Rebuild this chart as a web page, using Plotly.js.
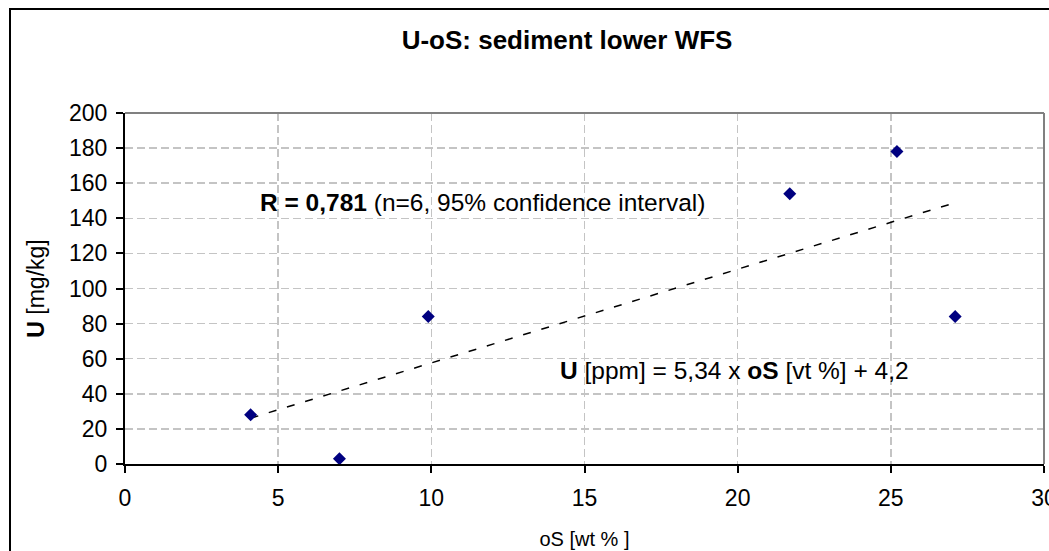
<!DOCTYPE html>
<html>
<head>
<meta charset="utf-8">
<script src="https://cdn.plot.ly/plotly-3.0.1.min.js"></script>
<style>
  html, body { margin: 0; padding: 0; background: #ffffff; overflow: hidden; }
  #wrap { position: relative; width: 1049px; height: 551px; }
  #chart { position: absolute; left: 0; top: 0; width: 1049px; height: 551px; }
  #frame { position: absolute; left: 9px; top: 8px; width: 1100px; height: 600px;
           border-left: 2px solid #000; border-top: 2px solid #000; pointer-events: none; }
</style>
</head>
<body>
<div id="wrap">
  <div id="chart"></div>
  <div id="frame"></div>
</div>
<script>
// Data
const osValues = [4.1, 7.0, 9.9, 21.7, 25.2, 27.1];      // oS [wt %]
const uValues  = [28, 3, 84, 154, 178, 84];               // U [mg/kg]
const trendX   = [4.1, 27.1];                             // regression line ends
const trendY   = [26.1, 148.9];
const xTicks   = [0, 5, 10, 15, 20, 25, 30];
const yTicks   = [0, 20, 40, 60, 80, 100, 120, 140, 160, 180, 200];

const titleText = '<b>U-oS: sediment lower WFS</b>';
const rText = '<b>R = 0,781</b> (n=6, 95% confidence interval)';
const eqText = '<b>U</b> [ppm] = 5,34 x <b>oS</b> [vt %] + 4,2';

const FONT = 'Liberation Sans, Arial, sans-serif';

const traces = [
  {
    x: trendX, y: trendY, type: 'scatter', mode: 'lines',
    line: { color: '#000000', width: 1.5, dash: '8px,11px' },
    hoverinfo: 'skip', showlegend: false
  },
  {
    x: osValues, y: uValues, type: 'scatter', mode: 'markers',
    marker: { symbol: 'diamond', size: 10, color: '#000080' },
    showlegend: false
  }
];

const layout = {
  width: 1049, height: 551,
  margin: { l: 125, r: 5, t: 113, b: 87 },
  paper_bgcolor: '#ffffff', plot_bgcolor: '#ffffff',
  font: { family: FONT, color: '#000000', size: 23 },
  title: {
    text: titleText,
    font: { family: FONT, size: 26, color: '#000000' },
    xref: 'paper', x: 0.481, xanchor: 'center',
    yref: 'container', y: 0.927, yanchor: 'middle'
  },
  xaxis: {
    range: [0, 30], tickvals: xTicks, ticktext: xTicks.map(String),
    showgrid: true, gridcolor: '#c4c4c4', gridwidth: 1.5, griddash: '8px,4px',
    zeroline: false, showline: true, linecolor: '#000000', linewidth: 2,
    ticks: 'outside', ticklen: 7, tickwidth: 2, tickcolor: '#000000',
    ticklabelstandoff: 5, ticklabeloverflow: 'allow',
    tickfont: { family: FONT, size: 23, color: '#000000' },
    title: { text: 'oS [wt % ]', font: { family: FONT, size: 20, color: '#000000' }, standoff: 22 },
    fixedrange: true
  },
  yaxis: {
    range: [0, 200], tickvals: yTicks, ticktext: yTicks.map(String),
    showgrid: true, gridcolor: '#c4c4c4', gridwidth: 1.5, griddash: '8px,4px',
    zeroline: false, showline: true, linecolor: '#000000', linewidth: 2,
    ticks: 'outside', ticklen: 7, tickwidth: 2, tickcolor: '#000000',
    ticklabelstandoff: 4,
    tickfont: { family: FONT, size: 23, color: '#000000' },
    title: { text: '<b>U</b> [mg/kg]', font: { family: FONT, size: 23, color: '#000000' }, standoff: 18 },
    fixedrange: true
  },
  shapes: [
    { type: 'line', xref: 'paper', yref: 'paper', x0: 0, x1: 1, y0: 1, y1: 1,
      line: { color: '#808080', width: 2 } },
    { type: 'line', xref: 'paper', yref: 'paper', x0: 1, x1: 1, y0: 0, y1: 1,
      line: { color: '#808080', width: 2 } }
  ],
  annotations: [
    { x: 4.35, y: 149, xref: 'x', yref: 'y', text: rText, showarrow: false,
      xanchor: 'left', yanchor: 'middle', font: { family: FONT, size: 24.5, color: '#000000' } },
    { x: 14.15, y: 53, xref: 'x', yref: 'y', text: eqText, showarrow: false,
      xanchor: 'left', yanchor: 'middle', font: { family: FONT, size: 24.5, color: '#000000' } }
  ],
  showlegend: false
};

Plotly.newPlot('chart', traces, layout, { displayModeBar: false, staticPlot: true });
</script>
</body>
</html>
